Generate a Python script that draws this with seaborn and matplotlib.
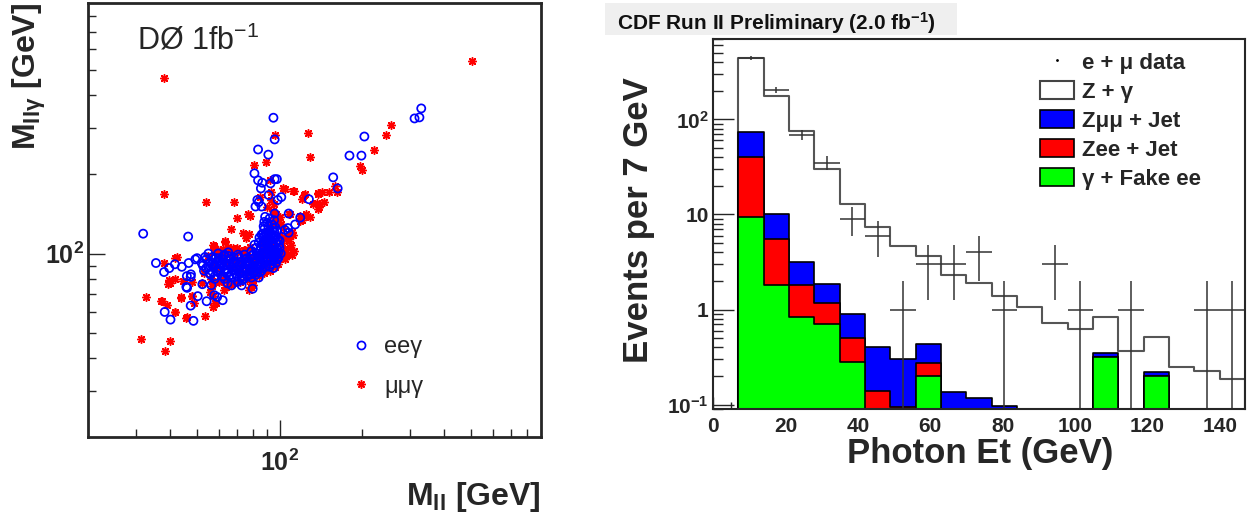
# %% HEADER
# D0 Mllg vs Mll scatter and CDF photon Et stacked histogram

# %% IMPORTS
from matplotlib.lines import Line2D
from matplotlib.patches import Patch, Rectangle
from matplotlib import ticker
import matplotlib.pyplot as plt
import numpy as np
import pandas as pd
import seaborn as sns

# %% DATA
# Left panel: D0 ee-gamma candidates (M_ll, M_llgamma) in GeV
ee_mll = [
    31.8, 46.4, 329, 324, 311, 204, 180, 199, 157, 163,
    95, 96, 83.5, 91, 81, 83.5, 85.5, 86.5, 92.7, 96,
    91.3, 98.5, 101.5, 83, 84, 81.7, 86, 128, 119, 108,
    114, 104.6, 96, 95.6, 88.6, 87, 96, 97.8, 107.3, 108,
    35.4, 37.9, 39.6, 41.5, 44, 46.6, 49.3, 45.9, 47.4, 45.7,
    50.3, 47.4, 54.2, 62, 57.8, 52.3, 38.1, 40, 48.5, 79.8,
    64.6, 70.3, 56.4, 50, 47.5, 46, 59.2, 72.7, 66.8, 59.7,
    57.2,
    52, 53, 54, 55, 56, 57, 58, 59, 60, 61,
    62, 63, 64, 65, 66, 67, 68, 69, 70, 71,
    72, 73, 74, 75, 76, 77, 78, 79, 80, 81,
    82, 83, 84, 85,
    54, 56, 58, 60, 62, 64, 66, 68, 70, 72, 74, 76, 78, 80, 82, 84,
    57, 61, 65, 69, 73, 77, 81, 85, 59, 63, 67, 71, 75, 79, 83,
    86, 88, 90, 92, 94, 96, 98, 87, 89, 91, 93, 95, 97, 99,
    86, 88, 90, 92, 94, 96, 98, 100, 87, 89, 91, 93, 95, 97,
    85, 84, 86, 88, 90, 92, 94, 96, 91, 89, 93, 95, 97, 99,
    83, 82, 85, 87, 101, 100, 91, 93, 95, 89, 87,
    92, 94, 96, 98, 90, 88, 86, 84, 82, 80, 79, 81,
    52.5, 55.5, 58.5, 61.5, 64.5, 67.5, 70.5, 73.5, 76.5, 79.5, 82.5,
    53.5, 56.5, 59.5, 62.5, 65.5, 68.5, 71.5, 74.5, 77.5, 80.5, 83.5,
    55, 60, 65, 70, 75, 80, 58, 63, 68, 73, 78, 83,
    85.5, 87.5, 89.5, 91.5, 93.5, 95.5, 97.5, 99.5,
    86.5, 88.5, 90.5, 92.5, 94.5, 96.5, 98.5,
    84.5, 87.5, 90.5, 93.5, 96.5, 88, 91, 94, 97,
]
ee_mllg = [
    119, 116, 357, 330, 327, 279, 236, 236, 195, 177,
    329, 272, 249, 238, 202, 190, 177, 186, 185, 192,
    167, 160, 164, 160, 157, 151, 151, 161, 137, 142,
    129, 123, 142, 134, 138, 119, 106, 192, 125, 120,
    92, 85, 88, 91, 89, 92, 95, 82, 81.5, 74.6,
    68.8, 63.3, 65.8, 66.4, 69.4, 76.4, 59.9, 56, 55.4, 73.4,
    77, 78, 75.7, 96, 83.3, 74, 68.3, 75.6, 75.6, 100,
    89,
    92, 86, 95, 89, 83, 97, 91, 86, 94, 88,
    82, 99, 91, 85, 95, 89, 81, 93, 87, 97,
    84, 91, 88, 95, 82, 90, 86, 98, 84, 92,
    88, 95, 81, 90,
    88, 93, 80, 87, 95, 84, 90, 97, 82, 93, 80, 96, 92, 89, 83, 97,
    85, 91, 98, 84, 86, 84, 86, 85, 92, 87, 83, 90, 87, 81, 89,
    100, 104, 108, 112, 99, 103, 95, 115, 120, 96, 118, 125, 110, 101,
    92, 97, 93, 89, 106, 114, 122, 105, 108, 113, 127, 103, 94, 98,
    103, 110, 118, 124, 131, 136, 129, 120, 116, 89, 91, 88, 92, 96,
    98, 105, 96, 88, 100, 112, 102, 96, 108, 100, 95,
    121, 115, 97, 104, 118, 110, 86, 90, 94, 99, 102, 108,
    90, 84, 96, 92, 87, 93, 99, 82, 94, 88, 100,
    97, 91, 85, 98, 82, 92, 86, 99, 93, 96, 87,
    100, 96, 101, 89, 91, 95, 82, 80, 86, 79, 83, 85,
    106, 111, 95, 104, 110, 117, 100, 108,
    98, 117, 113, 94, 122, 100, 113,
    115, 127, 100, 108, 126, 132, 110, 103, 116,
]

# Left panel: D0 mumu-gamma candidates (M_ll, M_llgamma) in GeV
mm_mll = [
    505, 38, 38, 255, 245, 221, 197, 200, 127, 129,
    96.5, 81, 89, 54, 68, 70, 66.6, 63, 57, 41.5,
    38, 39.6, 39.3, 32.6, 37, 38.7, 41.4, 43.6, 47.8, 45.4,
    53.4, 31.3, 38.1, 39.9, 47.8, 44.6, 57.3, 58, 57, 78.6,
    87, 78, 92.7, 103, 112, 123, 138, 143, 133, 141,
    138, 129, 125, 121, 119, 121, 160, 162, 152, 108,
    108, 111, 101.5, 92.7, 95.6, 90, 100, 87, 77.4, 75,
    67.6, 64.6, 60.8, 79.8, 77.4, 66.6, 62.7, 56.7, 58.3, 52.3,
    37.3, 42.1, 41.4, 39.8, 43.8, 41.7, 46, 48, 48.8, 55.6,
    58.4, 57.6, 60.7, 63.8, 63.4, 57.7, 73.7, 75.3, 79.4, 88.3,
    76.9, 84.9, 92.1, 104.4, 113.3, 124.3, 137.9, 136.7, 145.9, 122.5,
    109.5, 119, 139.8,
    55, 58, 60, 62, 64, 66, 68, 70, 72, 74,
    76, 78, 57, 61, 65, 69, 73, 77, 81, 84,
    86, 88, 90, 92, 94, 96, 98, 100, 102, 104,
    106, 108, 110, 112, 103, 99, 97, 95, 101, 103,
    105, 91, 89, 93, 87, 85, 83, 79, 75, 71,
    67, 63, 59, 53, 56, 60, 64, 68, 72, 76,
    80, 84, 88, 92, 96, 99, 107, 109, 111, 113,
]
mm_mllg = [
    542, 467, 168, 310, 282, 248, 216, 208, 288, 234,
    284, 218, 223, 157, 157, 137, 123.5, 112, 108, 96,
    92, 79.6, 76.4, 68, 65.8, 63.6, 60, 68, 68.7, 57,
    57.9, 47.4, 42.4, 46.5, 78, 78.7, 62.6, 64.8, 68.8, 74.6,
    87, 139, 172, 177, 173, 167, 169, 171, 154, 155,
    148, 138, 142, 134, 139, 162, 180, 172, 172, 142,
    119, 121, 130, 160, 154, 151, 138, 112, 119, 103,
    104.5, 106, 103, 75.8, 72.5, 75.8, 72.5, 75, 78, 77,
    66.2, 96.9, 79.7, 77.1, 67.8, 59.9, 57.3, 68.6, 64.7, 71.6,
    64.7, 78.1, 79.3, 74.7, 110.6, 107.2, 119.6, 114.3, 75.6, 86.7,
    141, 164.6, 190.4, 176.6, 172.5, 167.8, 169.8, 155.4, 157.5, 139.5,
    141.5, 132.8, 151,
    98, 101, 99, 104, 100, 102, 99, 105, 101, 103,
    98, 106, 90, 84, 92, 88, 94, 88, 95, 100,
    107, 113, 122, 126, 132, 137, 128, 118, 110, 104,
    115, 112, 108, 118, 125, 134, 141, 145, 97, 99,
    95, 92, 98, 108, 101, 94, 86, 90, 84, 86,
    95, 93, 88, 84, 80, 78, 79, 77, 78, 79,
    80, 82, 84, 86, 89, 91, 100, 105, 99, 102,
]

# Right panel: CDF photon Et, 7 GeV bins
bin_edges = [7, 14, 21, 28, 35, 42, 49, 56, 63, 70, 77, 84, 91, 98,
             105, 112, 119, 126, 133, 140, 147]
fake_ee = [9.5, 1.8, 0.83, 0.71, 0.28, 0, 0, 0.20, 0, 0,
           0, 0, 0, 0, 0.32, 0, 0.20, 0, 0, 0]
zee_jet = [31, 3.7, 0.97, 0.45, 0.22, 0.14, 0.095, 0.075, 0, 0,
           0, 0, 0, 0, 0, 0, 0, 0, 0, 0]
zmm_jet = [33.5, 4.6, 1.4, 0.70, 0.40, 0.26, 0.21, 0.16, 0.136, 0.117,
           0.096, 0, 0, 0, 0.03, 0, 0.02, 0, 0, 0]
z_gamma = [373, 166, 72, 28, 12.1, 6.9, 4.4, 3.2, 2.16, 1.78,
           1.28, 1.06, 0.72, 0.62, 0.49, 0.365, 0.30, 0.25, 0.224, 0.188]
data_counts = [447, 203, 69, 35, 9, 6, 1, 3, 3, 4,
               1, 0, 3, 1, 0, 1, 0, 0, 1, 1]

# %% STYLE
sns.set_style("ticks")
plt.rcParams["font.family"] = ["Liberation Sans", "DejaVu Sans"]
plt.rcParams["mathtext.fontset"] = "custom"
plt.rcParams["mathtext.rm"] = "Liberation Sans"
plt.rcParams["mathtext.it"] = "Liberation Sans:italic"
plt.rcParams["mathtext.bf"] = "Liberation Sans:bold"

W, H = 1249, 514
fig = plt.figure(figsize=(W / 100, H / 100), dpi=100)
fig.patch.set_facecolor("white")

# %% LEFT PANEL
ax1 = fig.add_axes([88 / W, 1 - 437 / H, 453 / W, 434 / H])
sns.scatterplot(x=mm_mll, y=mm_mllg, ax=ax1, marker=(8, 2, 0), s=30, color="red")
ax1.collections[-1].set_edgecolor("red")
ax1.collections[-1].set_linewidth(1.1)
sns.scatterplot(x=ee_mll, y=ee_mllg, ax=ax1, marker="o", s=34, color="blue")
ax1.collections[-1].set_facecolor("none")
ax1.collections[-1].set_edgecolor("blue")
ax1.collections[-1].set_linewidth(1.25)

ax1.set_xscale("log")
ax1.set_yscale("log")
ax1.set_xlim(20, 900)
ax1.set_ylim(20, 900)
minors = [30, 40, 50, 60, 70, 80, 90, 200, 300, 400, 500, 600, 700, 800]
for axis in (ax1.xaxis, ax1.yaxis):
    axis.set_major_locator(ticker.FixedLocator([100]))
    axis.set_major_formatter(ticker.FixedFormatter([r"$\mathbf{10^{2}}$"]))
    axis.set_minor_locator(ticker.FixedLocator(minors))
    axis.set_minor_formatter(ticker.NullFormatter())
ax1.tick_params(which="both", direction="in", top=False, right=False, width=1)
ax1.tick_params(which="major", length=12, labelsize=18)
ax1.tick_params(which="minor", length=6)
ax1.tick_params(axis="x", which="major", pad=9)
ax1.tick_params(axis="y", which="major", pad=3)
for sp in ax1.spines.values():
    sp.set_linewidth(2)
ax1.set_xlabel("")
ax1.set_ylabel("")

fig.text(137 / W, 1 - 49 / H, r"DØ 1fb$^{-1}$", fontsize=22, va="baseline")
fig.text(541 / W, 1 - 505 / H, r"$\mathbf{M_{ll}}$ [GeV]", fontsize=23,
         fontweight="bold", ha="right", va="baseline")
fig.text(36 / W, 1 - 3 / H, r"$\mathbf{M_{ll\gamma}}$ [GeV]", fontsize=23,
         fontweight="bold", rotation=90, rotation_mode="anchor",
         ha="right", va="baseline")

left_handles = [
    Line2D([], [], ls="", marker="o", mfc="none", mec="blue", ms=5.8, mew=1.25),
    Line2D([], [], ls="", marker=(8, 2, 0), color="red", ms=6, mew=1.1),
]
ax1.legend(left_handles, ["eeγ", "μμγ"], loc="upper left",
           bbox_to_anchor=(349 / W, 1 - 336 / H), bbox_transform=fig.transFigure,
           frameon=False, fontsize=17, handlelength=1.0, handletextpad=0.5,
           labelspacing=0.75, borderpad=0, borderaxespad=0)

# %% RIGHT PANEL
ax2 = fig.add_axes([713 / W, 1 - 409 / H, 532 / W, 370 / H])

edges = np.array(bin_edges, dtype=float)
centers = (edges[:-1] + edges[1:]) / 2
green_top = np.array(fake_ee)
red_top = green_top + np.array(zee_jet)
blue_top = red_top + np.array(zmm_jet)
total_top = blue_top + np.array(z_gamma)

# Stack drawn as overlapping cumulative histograms, largest first
layers = [
    (total_top, "white", "#555555", 1.5),
    (blue_top, "#0000ff", "black", 1.2),
    (red_top, "#ff0000", "black", 1.2),
    (green_top, "#00ff00", "black", 1.2),
]
for heights, fill, edge, lw in layers:
    layer = pd.DataFrame({"et": centers, "events": heights})
    sns.histplot(data=layer, x="et", weights="events", bins=bin_edges,
                 element="step", fill=True, color=fill, edgecolor=edge,
                 linewidth=lw, alpha=1, ax=ax2)

counts = np.array(data_counts, dtype=float)
has_data = counts > 0
ax2.errorbar(centers[has_data], counts[has_data],
             xerr=(np.diff(edges) / 2)[has_data], yerr=np.sqrt(counts[has_data]),
             fmt="none", ecolor="#333333", elinewidth=1.1, capsize=0)

ax2.set_yscale("log")
ax2.set_xlim(0, 147)
ax2.set_ylim(0.09, 700)
ax2.set_xticks([0, 20, 40, 60, 80, 100, 120, 140])
ax2.set_xticklabels(["0", "20", "40", "60", "80", "100", "120", "140"],
                    fontsize=15, fontweight="bold")
ax2.xaxis.set_minor_locator(ticker.MultipleLocator(5))
ax2.set_yticks([0.1, 1, 10, 100])
ax2.set_yticklabels([r"$\mathbf{10^{-1}}$", "1", "10", r"$\mathbf{10^{2}}$"],
                    fontsize=15, fontweight="bold")
ax2.yaxis.set_minor_locator(ticker.LogLocator(base=10, subs=range(2, 10)))
ax2.yaxis.set_minor_formatter(ticker.NullFormatter())
ax2.tick_params(which="both", direction="in", top=False, right=False, width=1)
ax2.tick_params(axis="x", which="major", length=9, pad=6)
ax2.tick_params(axis="x", which="minor", length=5)
ax2.tick_params(axis="y", which="major", length=15, pad=3)
ax2.tick_params(axis="y", which="minor", length=7)
for sp in ax2.spines.values():
    sp.set_linewidth(1.5)
ax2.set_xlabel("")
ax2.set_ylabel("")

fig.text(980 / W, 1 - 463 / H, "Photon Et (GeV)", fontsize=25,
         fontweight="bold", ha="center", va="baseline")
fig.text(648 / W, 1 - 77 / H, "Events per 7 GeV", fontsize=25,
         fontweight="bold", rotation=90, rotation_mode="anchor",
         ha="right", va="baseline")

# Title box
fig.patches.append(Rectangle((605 / W, 1 - 35 / H), 352 / W, 32 / H,
                             transform=fig.transFigure, facecolor="#efefef",
                             edgecolor="none", zorder=0))
fig.text(617 / W, 1 - 30 / H, r"CDF Run II Preliminary (2.0 fb$^{\mathbf{-1}}$)",
         fontsize=15, fontweight="bold", va="baseline", color="#111111")

right_handles = [
    Line2D([], [], ls="", marker=".", ms=2, color="black"),
    Patch(facecolor="white", edgecolor="#444444", linewidth=1.5),
    Patch(facecolor="#0000ff", edgecolor="black", linewidth=1.2),
    Patch(facecolor="#ff0000", edgecolor="black", linewidth=1.2),
    Patch(facecolor="#00ff00", edgecolor="black", linewidth=1.2),
]
right_labels = ["e + μ data", "Z + γ", "Zμμ + Jet", "Zee + Jet", "γ + Fake ee"]
ax2.legend(right_handles, right_labels, loc="upper left",
           bbox_to_anchor=(1040 / W, 1 - 52 / H), bbox_transform=fig.transFigure,
           frameon=False, prop={"size": 16, "weight": "bold"},
           handlelength=1.55, handleheight=0.9, handletextpad=0.35,
           labelspacing=0.32, borderpad=0, borderaxespad=0)

fig.savefig("out.png", dpi=100)
